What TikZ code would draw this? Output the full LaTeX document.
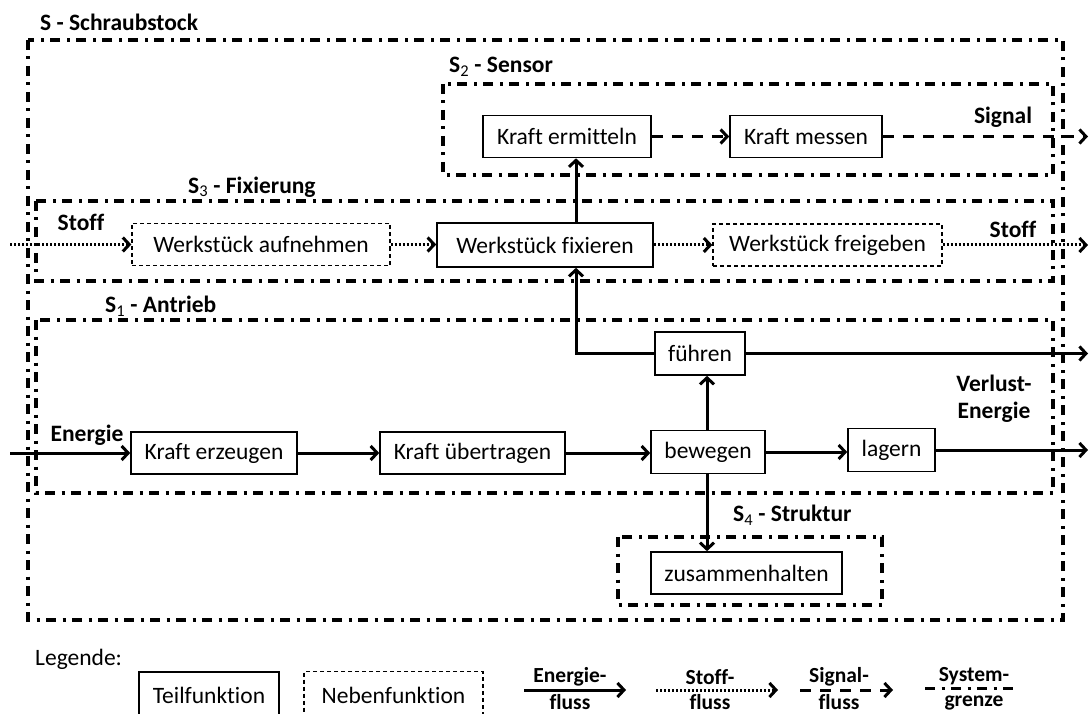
\documentclass[tikz,border=0pt]{standalone}
\usepackage{fontspec}
\setmainfont{Carlito}[Ligatures=NoCommon]
\usetikzlibrary{arrows.meta}
\begin{document}
\begin{tikzpicture}[x=1pt,y=-1pt,
  font=\fontsize{23.5}{27}\selectfont,
  fn/.style={draw, line width=1.6pt, minimum height=42pt, inner sep=0pt},
  nf/.style={draw, line width=1.3pt, dash pattern=on 4pt off 3pt, minimum height=42pt, inner sep=0pt},
  sysb/.style={line width=3.3pt, dash pattern=on 10pt off 6.5pt on 3pt off 6.5pt},
  lbl/.style={font=\fontsize{23.5}{27}\selectfont\bfseries, inner sep=0pt},
  leglbl/.style={font=\fontsize{21.5}{25}\selectfont\bfseries, inner sep=0pt},
  tip/.style={-{Straight Barb[length=6.5pt,width=14pt]}},
  energy/.style={line width=3pt, tip},
  stoff/.style={line width=3pt, dash pattern=on 2pt off 2pt, tip},
  signal/.style={line width=3pt, dash pattern=on 11pt off 9pt, tip}]
\useasboundingbox (0,0) rectangle (1090,714);

% system boundaries
\draw[sysb] (28,40) rectangle (1063,620);
\draw[sysb] (443,84) rectangle (1053,175);
\draw[sysb] (36,201) rectangle (1053,281);
\draw[sysb] (36,320) rectangle (1053,493);
\draw[sysb] (618,537) rectangle (882,605);

% boundary titles
\node[lbl, anchor=west] (tS)  at (40,22)  {S - Schraubstock};
\node[lbl, anchor=west] (tS2) at (449,67) {S\textsubscript{\mdseries 2} - Sensor};
\node[lbl, anchor=west] (tS3) at (188,187) {S\textsubscript{\mdseries 3} - Fixierung};
\node[lbl, anchor=west] (tS1) at (105,306) {S\textsubscript{\mdseries 1} - Antrieb};
\node[lbl, anchor=west] (tS4) at (733,515) {S\textsubscript{\mdseries 4} - Struktur};

% functions
\node[fn, minimum width=168pt] (kerm) at (567,136.5) {Kraft ermitteln};
\node[fn, minimum width=152pt] (kmes) at (806,136.5) {Kraft messen};
\node[nf, minimum width=258pt] (wauf) at (261,244.5) {Werkstück aufnehmen};
\node[fn, minimum width=216pt, minimum height=44pt] (wfix) at (545,245) {Werkstück fixieren};
\node[nf, minimum width=229pt] (wfrei) at (827.5,245) {Werkstück freigeben};
\node[fn, minimum width=90pt, minimum height=43pt] (fuehr) at (700,353.5) {führen};
\node[fn, minimum width=166pt] (kerz) at (214,453) {Kraft erzeugen};
\node[fn, minimum width=185pt] (kueb) at (472.5,453) {Kraft übertragen};
\node[fn, minimum width=114pt, minimum height=43pt] (bew) at (708,452) {bewegen};
\node[fn, minimum width=87pt, minimum height=43pt] (lag) at (891.5,450) {lagern};
\node[fn, minimum width=191pt] (zus) at (746.5,573) {zusammenhalten};

% helper coordinates
\coordinate (cx) at (576,0);
\coordinate (bx) at (707,0);
\coordinate (outR) at (1088,0);
\coordinate (inE) at (10,453);
\coordinate (inS) at (10,244.5);

% signal flow
\draw[signal] (kerm.east) -- (kerm.east -| kmes.west);
\draw[signal] (kmes.east) -- (kmes.east -| outR);
% material flow
\draw[stoff] (inS) -- (wauf.west);
\draw[stoff] (wauf.east) -- (wauf.east -| wfix.west);
\draw[stoff] (wfix.east) -- (wfix.east -| wfrei.west);
\draw[stoff] (wfrei.east) -- (wfrei.east -| outR);
% energy flow
\draw[energy] (cx |- wfix.north) -- (cx |- kerm.south);
\draw[energy] (fuehr.west) -| (cx |- wfix.south);
\draw[energy] (fuehr.east) -- (fuehr.east -| outR);
\draw[energy] (inE) -- (inE -| kerz.west);
\draw[energy] (kerz.east) -- (kerz.east -| kueb.west);
\draw[energy] (kueb.east) -- (kueb.east -| bew.west);
\draw[energy] (bew.east) -- (bew.east -| lag.west);
\draw[energy] (lag.east) -- (lag.east -| outR);
\draw[energy] (bx |- bew.north) -- (bx |- fuehr.south);
\draw[energy] (bx |- bew.south) -- (bx |- zus.north);

% flow labels
\node[lbl] (lSig) at (1003,117) {Signal};
\node[lbl] (lStL) at (81,222) {Stoff};
\node[lbl] (lStR) at (1013,229) {Stoff};
\node[lbl] (lEn) at (87,435) {Energie};
\node[lbl, align=center] (lVE) at (994,399) {Verlust-\\Energie};

% legend
\node[anchor=west, inner sep=0pt] (leg) at (35,659) {Legende:};
\node[fn, minimum width=140pt, minimum height=46pt] (lgT) at (209,695) {Teilfunktion};
\node[nf, minimum width=179pt, minimum height=47pt] (lgN) at (393.5,695) {Nebenfunktion};

\coordinate (e1) at (524,690); \coordinate (e2) at (626,690);
\draw[energy] (e1) -- (e2);
\node[leglbl] (lgE1) at (570,677) {Energie-};
\node[leglbl] (lgE2) at (570,702) {fluss};

\coordinate (s1) at (656,690); \coordinate (s2) at (778,690);
\draw[stoff] (s1) -- (s2);
\node[leglbl] (lgS1) at (710,677) {Stoff-};
\node[leglbl] (lgS2) at (710,702) {fluss};

\coordinate (g1) at (800,690); \coordinate (g2) at (893,690);
\draw[signal] (g1) -- (g2);
\node[leglbl] (lgG1) at (839,677) {Signal-};
\node[leglbl] (lgG2) at (839,702) {fluss};

\coordinate (y1) at (925,688.5); \coordinate (y2) at (1013,688.5);
\draw[sysb, line width=2.6pt] (y1) -- (y2);
\node[leglbl] (lgY1) at (974,676) {System-};
\node[leglbl] (lgY2) at (974,703) {grenze};
\end{tikzpicture}
\end{document}
